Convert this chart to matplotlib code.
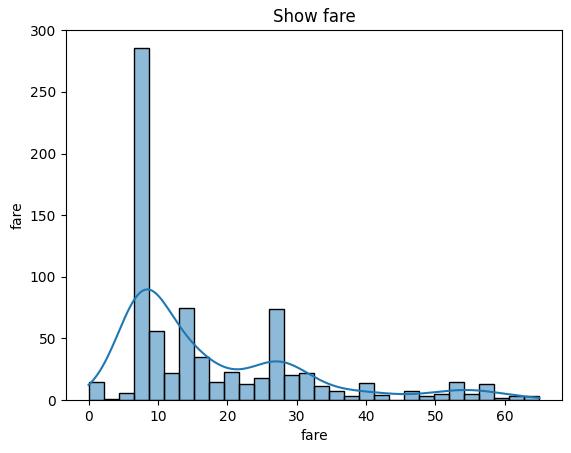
import numpy as np
import matplotlib
matplotlib.use("Agg")
import matplotlib.pyplot as plt
import seaborn as sns

# Histogram of fare (30 bins between 0 and 65)
bin_start = 0.0
bin_end = 65.0
n_bins = 30
counts = [15, 1, 6, 286, 56, 22, 75, 35, 15, 23,
          13, 18, 74, 20, 22, 11, 7, 3, 14, 4,
          0, 7, 3, 5, 15, 5, 13, 2, 3, 3]

title = "Show fare"
xlabel = "fare"
ylabel = "fare"

edges = np.linspace(bin_start, bin_end, n_bins + 1)
centers = (edges[:-1] + edges[1:]) / 2
counts = np.array(counts)
samples = np.repeat(centers, counts)

fig = plt.figure(figsize=(5.71, 4.53), dpi=100)
ax = fig.add_axes([66 / 571, 53 / 453, 496 / 571, 370 / 453])

sns.histplot(x=samples, bins=n_bins, binrange=(bin_start, bin_end), ax=ax,
             color="C0", alpha=0.5)

# KDE curve (Scott bandwidth) scaled to counts
n = samples.size
h = samples.std(ddof=1) * n ** (-1 / 5)
grid = np.linspace(bin_start, bin_end, 200)
dens = np.exp(-0.5 * ((grid[:, None] - samples[None, :]) / h) ** 2).sum(axis=1)
dens /= n * h * np.sqrt(2 * np.pi)
binw = edges[1] - edges[0]
ax.plot(grid, dens * n * binw, color="C0", lw=1.5)

ax.set_title(title)
ax.set_xlabel(xlabel)
ax.set_ylabel(ylabel)

fig.savefig("out.png", dpi=100)
